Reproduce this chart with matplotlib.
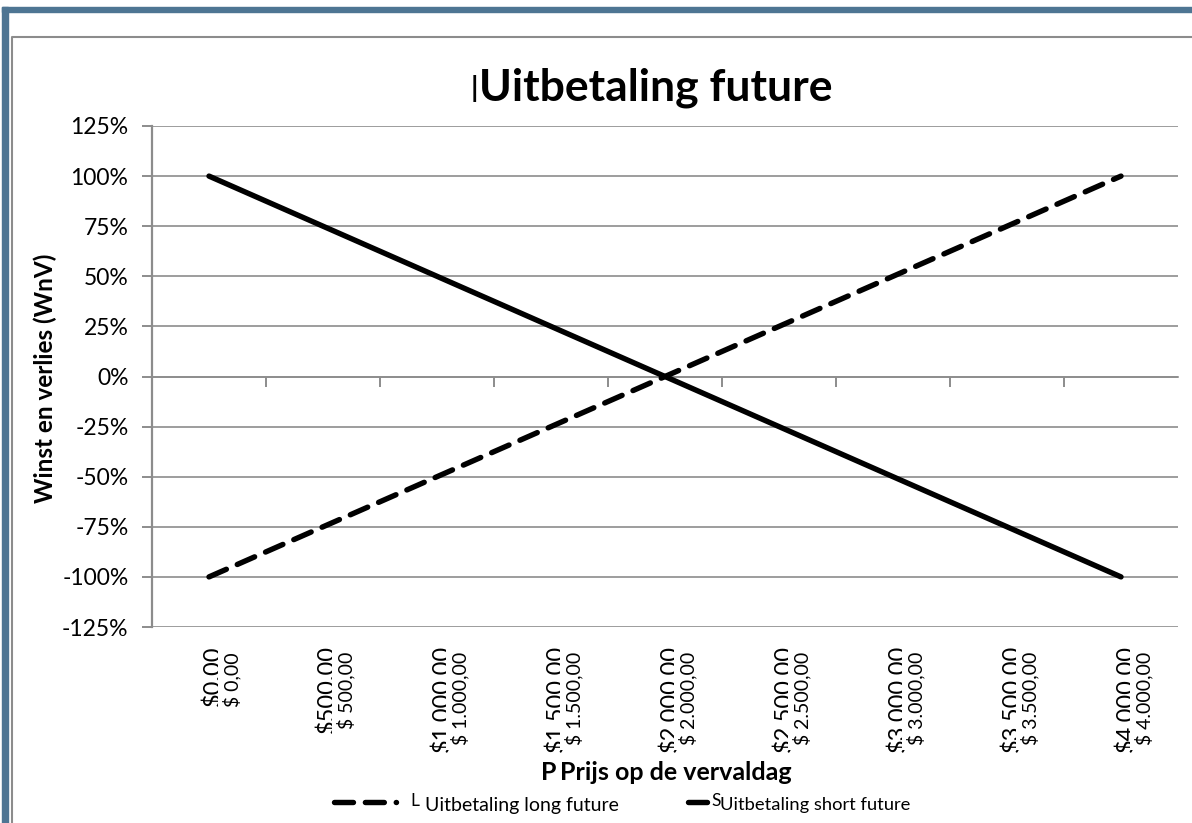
import numpy as np
import matplotlib
matplotlib.use("Agg")
import matplotlib.pyplot as plt
from matplotlib.patches import Rectangle
from matplotlib.lines import Line2D
from matplotlib.transforms import blended_transform_factory

plt.rcParams["font.family"] = ["Lato", "DejaVu Sans"]

# Data: price at expiry and payoff of long / short future (in %)
prices = [0, 500, 1000, 1500, 2000, 2500, 3000, 3500, 4000]
long_payoff = [-100, -75, -50, -25, 0, 25, 50, 75, 100]
short_payoff = [100, 75, 50, 25, 0, -25, -50, -75, -100]

labels_big = ["$0.00", "$500.00", "$1,000.00", "$1,500.00", "$2,000.00",
              "$2,500.00", "$3,000.00", "$3,500.00", "$4,000.00"]
labels_small = ["$ 0,00", "$ 500,00", "$ 1.000,00", "$ 1.500,00", "$ 2.000,00",
                "$ 2.500,00", "$ 3.000,00", "$ 3.500,00", "$ 4.000,00"]
y_ticks = [-125, -100, -75, -50, -25, 0, 25, 50, 75, 100, 125]

W, H = 1192, 823
fig = plt.figure(figsize=(W / 100, H / 100), dpi=100)
fig.patch.set_facecolor("white")

def fx(px):
    return px / W

def fy(py):
    return 1 - py / H

# outer blue frame and inner grey border
blue = "#4e7593"
grey = "#8c8c8c"
fig.patches.append(Rectangle((fx(2), 0), fx(6), fy(7), transform=fig.transFigure,
                             color=blue, zorder=0))
fig.patches.append(Rectangle((fx(2), fy(12)), 1, fy(7) - fy(12), transform=fig.transFigure,
                             color=blue, zorder=0))
fig.lines.append(Line2D([fx(12), fx(12), 1], [0, fy(37), fy(37)], transform=fig.transFigure,
                        color=grey, lw=1.5))

ax = fig.add_axes([fx(152), fy(627), fx(1178) - fx(152), fy(126) - fy(627)])
x = np.arange(len(prices))

ax.plot(x, long_payoff, color="black", lw=3.9, linestyle=(0, (3.5, 2.2)),
        dash_capstyle="round", solid_capstyle="round", zorder=3)
ax.plot(x, short_payoff, color="black", lw=3.9, solid_capstyle="round", zorder=3)

ax.set_xlim(-0.5, len(prices) - 0.5)
ax.set_ylim(-125, 125)
ax.set_yticks(y_ticks)
ax.set_yticklabels([f"{v}%" for v in y_ticks], fontsize=16.5)
ax.yaxis.grid(True, color=grey, lw=1.2)
ax.set_axisbelow(True)
for s in ["top", "right"]:
    ax.spines[s].set_visible(False)
ax.spines["left"].set_color(grey)
ax.spines["left"].set_linewidth(1.6)
ax.spines["bottom"].set_position(("data", 0))
ax.spines["bottom"].set_color(grey)
ax.spines["bottom"].set_linewidth(1.2)
ax.set_xticks(np.arange(0.5, len(prices) - 0.5, 1))
ax.set_xticklabels([])
ax.tick_params(axis="x", direction="out", length=7, width=1.4, color=grey)
ax.tick_params(axis="y", direction="out", length=7, width=1.4, color=grey, pad=10)

# category labels (two overlapping sets, as in the source)
tr = blended_transform_factory(ax.transData, fig.transFigure)
for i in range(len(prices)):
    ax.text(x[i] + 0.04, fy(645), labels_big[i], transform=tr, rotation=90, ha="center",
            va="top", fontsize=17, clip_on=False)
    ax.text(x[i] + 0.2, fy(652), labels_small[i], transform=tr, rotation=90,
            ha="center", va="top", fontsize=14, clip_on=False,
            bbox=dict(facecolor="white", edgecolor="none", pad=3.5))

# title
fig.text(fx(474), fy(88), "|", fontsize=21, fontweight="bold", ha="center", va="center")
fig.text(fx(656), fy(88), "Uitbetaling future", fontsize=32, fontweight="bold",
         ha="center", va="center")

# axis titles
fig.text(fx(45), fy(378), "Winst en verlies (WnV)", rotation=90, fontsize=17.5,
         fontweight="bold", ha="center", va="center")
fig.text(fx(549), fy(772), "P", fontsize=18, fontweight="bold", ha="center", va="center")
fig.text(fx(676), fy(772), "Prijs op de vervaldag", fontsize=18, fontweight="bold",
         ha="center", va="center",
         bbox=dict(facecolor="white", edgecolor="none", pad=0.5))

# legend
fig.lines.append(Line2D([fx(334), fx(396)], [fy(802), fy(802)], transform=fig.transFigure,
                        color="black", lw=3.9, linestyle=(0, (3.5, 2.2)),
                        dash_capstyle="round"))
fig.lines.append(Line2D([fx(688), fx(707)], [fy(802), fy(802)], transform=fig.transFigure,
                        color="black", lw=3.9, solid_capstyle="round"))
fig.text(fx(410), fy(801), "L", fontsize=12.5, ha="left", va="center")
fig.text(fx(425), fy(805), "Uitbetaling long future", fontsize=14, ha="left", va="center")
fig.text(fx(711), fy(801), "S", fontsize=12.5, ha="left", va="center")
fig.text(fx(720), fy(805), "Uitbetaling short future", fontsize=13.2, ha="left", va="center")

fig.savefig("out.png", dpi=100, facecolor="white")
